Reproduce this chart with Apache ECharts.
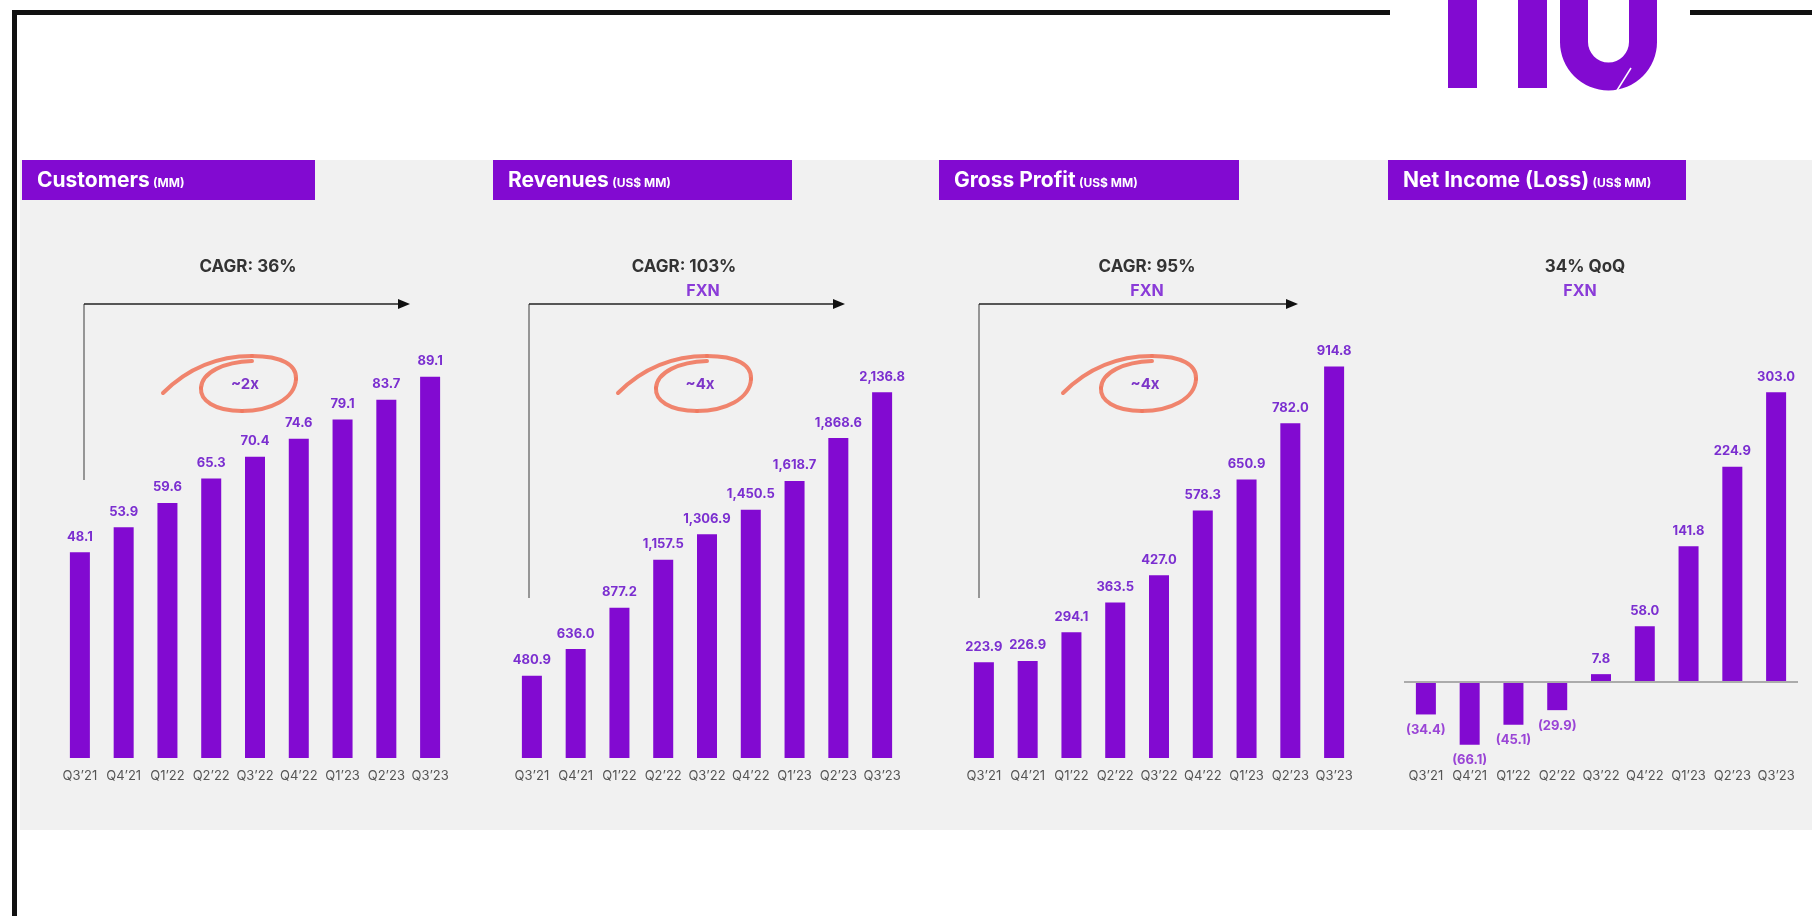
<!DOCTYPE html>
<html>
<head>
<meta charset="utf-8">
<title>Nu – Quarterly Highlights</title>
<script src="https://cdn.jsdelivr.net/npm/echarts@6/dist/echarts.min.js"></script>
<style>
  html, body { margin: 0; padding: 0; background: #ffffff; }
  #chart { width: 1812px; height: 916px; }
</style>
</head>
<body>
<div id="chart"></div>
<script>
// Quarter labels shared by all four panels
const quarters = ["Q3’21", "Q4’21", "Q1’22", "Q2’22", "Q3’22", "Q4’22", "Q1’23", "Q2’23", "Q3’23"];

// Customers (MM)
const customers = [48.1, 53.9, 59.6, 65.3, 70.4, 74.6, 79.1, 83.7, 89.1];
// Revenues (US$ MM)
const revenues = [480.9, 636.0, 877.2, 1157.5, 1306.9, 1450.5, 1618.7, 1868.6, 2136.8];
// Gross Profit (US$ MM)
const grossProfit = [223.9, 226.9, 294.1, 363.5, 427.0, 578.3, 650.9, 782.0, 914.8];
// Net Income (Loss) (US$ MM)
const netIncome = [-34.4, -66.1, -45.1, -29.9, 7.8, 58.0, 141.8, 224.9, 303.0];

// Panel headings and notes
const panelTitles = ["Customers", "Revenues", "Gross Profit", "Net Income (Loss)"];
const panelUnits = ["(MM)", "(US$ MM)", "(US$ MM)", "(US$ MM)"];
const growthNotes = ["CAGR: 36%", "CAGR: 103%", "CAGR: 95%", "34% QoQ"];
const fxnNotes = ["", "FXN", "FXN", "FXN"];
const multipleNotes = ["~2x", "~4x", "~4x"];

const PURPLE = "#820ad1";
const LABEL_PURPLE = "#7b2fd0";
const FONT = "Inter, 'Noto Sans', sans-serif";

const fmt1 = v => v.toLocaleString("en-US", { minimumFractionDigits: 1, maximumFractionDigits: 1 });
const fmtSigned = v => v < 0 ? "(" + fmt1(Math.abs(v)) + ")" : fmt1(v);

const chart = echarts.init(document.getElementById("chart"), null, { renderer: "canvas" });

// Layout of the four panels
const grids = [
  { left: 58,   top: 330, width: 394, height: 428 },
  { left: 510,  top: 330, width: 394, height: 428 },
  { left: 962,  top: 330, width: 394, height: 428 },
  { left: 1404, top: 376, width: 394, height: 382 }
];
const yRanges = [[0, 100], [0, 2500], [0, 1000], [-80, 320]];
const seriesData = [customers, revenues, grossProfit, netIncome];

const xAxes = grids.map((g, i) => ({
  type: "category",
  gridIndex: i,
  data: quarters,
  axisLine: { show: false, onZero: false },
  axisTick: { show: false },
  axisLabel: { margin: 12, fontSize: 13, color: "#555555", fontFamily: FONT, interval: 0 }
}));
const yAxes = grids.map((g, i) => ({
  type: "value",
  gridIndex: i,
  min: yRanges[i][0],
  max: yRanges[i][1],
  show: false,
  splitLine: { show: false }
}));

const series = seriesData.map((d, i) => {
  const s = {
    type: "bar",
    xAxisIndex: i,
    yAxisIndex: i,
    barWidth: 20,
    itemStyle: { color: PURPLE },
    data: d.map(v => ({
      value: v,
      label: {
        show: true,
        position: v < 0 ? "bottom" : "top",
        distance: 9,
        formatter: p => fmtSigned(p.value),
        color: v < 0 ? "#9a45d6" : LABEL_PURPLE,
        fontSize: 13,
        fontWeight: "bold",
        fontFamily: FONT
      }
    }))
  };
  if (i === 3) {
    s.markLine = {
      silent: true,
      symbol: "none",
      label: { show: false },
      lineStyle: { color: "#ababab", width: 2, type: "solid" },
      data: [{ yAxis: 0 }]
    };
  }
  return s;
});

// Decorative graphics: frame, logo, panel background, headers, notes, arrows
const graphics = [];

// light grey panel
graphics.push({ type: "rect", z: -10, shape: { x: 20, y: 160, width: 1792, height: 670 }, style: { fill: "#f1f1f1" } });

// frame lines
graphics.push({ type: "rect", z: 5, shape: { x: 12, y: 10, width: 1378, height: 5 }, style: { fill: "#111" } });
graphics.push({ type: "rect", z: 5, shape: { x: 1690, y: 10, width: 122, height: 5 }, style: { fill: "#111" } });
graphics.push({ type: "rect", z: 5, shape: { x: 12, y: 10, width: 5, height: 906 }, style: { fill: "#111" } });

// nu logo
graphics.push({ type: "rect", z: 5, shape: { x: 1448, y: 0, width: 29, height: 88 }, style: { fill: PURPLE } });
graphics.push({ type: "rect", z: 5, shape: { x: 1518, y: 0, width: 29, height: 88 }, style: { fill: PURPLE } });
graphics.push({ type: "rect", z: 5, shape: { x: 1560, y: 0, width: 28, height: 43 }, style: { fill: PURPLE } });
graphics.push({ type: "rect", z: 5, shape: { x: 1629, y: 0, width: 28, height: 43 }, style: { fill: PURPLE } });
graphics.push({ type: "sector", z: 5, shape: { cx: 1608.5, cy: 42, r: 48.5, r0: 20.5, startAngle: 0, endAngle: Math.PI, clockwise: true }, style: { fill: PURPLE } });
graphics.push({ type: "line", z: 6, shape: { x1: 1616, y1: 92, x2: 1631, y2: 68 }, style: { stroke: "#ffffff", lineWidth: 1.5 } });

// header boxes
const boxLefts = [22, 493, 939, 1388];
const boxWidths = [293, 299, 300, 298];
panelTitles.forEach((t, i) => {
  graphics.push({ type: "rect", z: 5, shape: { x: boxLefts[i], y: 160, width: boxWidths[i], height: 40 }, style: { fill: PURPLE } });
  graphics.push({
    type: "text", z: 6, x: boxLefts[i] + 15, y: 181,
    style: {
      text: "{a|" + t + "} {b|" + panelUnits[i] + "}",
      verticalAlign: "middle",
      rich: {
        a: { fontSize: 21, fontWeight: "bold", fill: "#ffffff", fontFamily: FONT },
        b: { fontSize: 12, fontWeight: "bold", fill: "#ffffff", fontFamily: FONT, padding: [4, 0, 0, 0] }
      }
    }
  });
});

// growth notes
const noteX = [248, 684, 1147, 1585];
const fxnX = [0, 703, 1147, 1580];
growthNotes.forEach((t, i) => {
  graphics.push({ type: "text", z: 6, x: noteX[i], y: 267,
    style: { text: t, fill: "#333333", fontSize: 17, fontWeight: "bold", fontFamily: FONT, align: "center", verticalAlign: "middle" } });
  if (fxnNotes[i]) {
    graphics.push({ type: "text", z: 6, x: fxnX[i], y: 291,
      style: { text: fxnNotes[i], fill: "#8a3bd8", fontSize: 16, fontWeight: "bold", fontFamily: FONT, align: "center", verticalAlign: "middle" } });
  }
});

// growth arrows for the first three panels
const arrowStart = [84, 529, 979];
const arrowEnd = [410, 845, 1298];
const arrowDrop = [480, 598, 598];
for (let i = 0; i < 3; i++) {
  graphics.push({ type: "line", z: 4, shape: { x1: arrowStart[i], y1: 304, x2: arrowStart[i], y2: arrowDrop[i] }, style: { stroke: "#777777", lineWidth: 1.5 } });
  graphics.push({ type: "line", z: 4, shape: { x1: arrowStart[i], y1: 304, x2: arrowEnd[i] - 10, y2: 304 }, style: { stroke: "#222222", lineWidth: 1.5 } });
  graphics.push({ type: "polygon", z: 4, shape: { points: [[arrowEnd[i], 304], [arrowEnd[i] - 12, 299], [arrowEnd[i] - 12, 309]] }, style: { fill: "#111111" } });
}

// hand-drawn loops around the growth multiples, built from cubic curve pieces
const loopPieces = [
  [163, 393, 186, 370, 216, 356, 252, 356],
  [252, 356, 282, 356, 297, 365, 296, 379],
  [296, 379, 295, 399, 270, 411, 242, 411],
  [242, 411, 214, 411, 200, 400, 201, 388],
  [201, 388, 202, 372, 224, 362, 252, 361]
];
const circleDx = [0, 455, 900];
for (let i = 0; i < 3; i++) {
  const d = circleDx[i];
  loopPieces.forEach(c => {
    graphics.push({
      type: "bezierCurve", z: 4,
      shape: { x1: c[0] + d, y1: c[1], cpx1: c[2] + d, cpy1: c[3], cpx2: c[4] + d, cpy2: c[5], x2: c[6] + d, y2: c[7] },
      style: { fill: null, stroke: "#f0785e", lineWidth: 4, lineCap: "round", opacity: 0.9 }
    });
  });
  graphics.push({ type: "text", z: 6, x: 245 + d, y: 384,
    style: { text: multipleNotes[i], fill: "#7d35c8", fontSize: 15, fontWeight: "bold", fontFamily: FONT, align: "center", verticalAlign: "middle" } });
}

chart.setOption({
  backgroundColor: "#ffffff",
  animation: false,
  grid: grids,
  xAxis: xAxes,
  yAxis: yAxes,
  series: series,
  graphic: graphics
});
</script>
</body>
</html>
